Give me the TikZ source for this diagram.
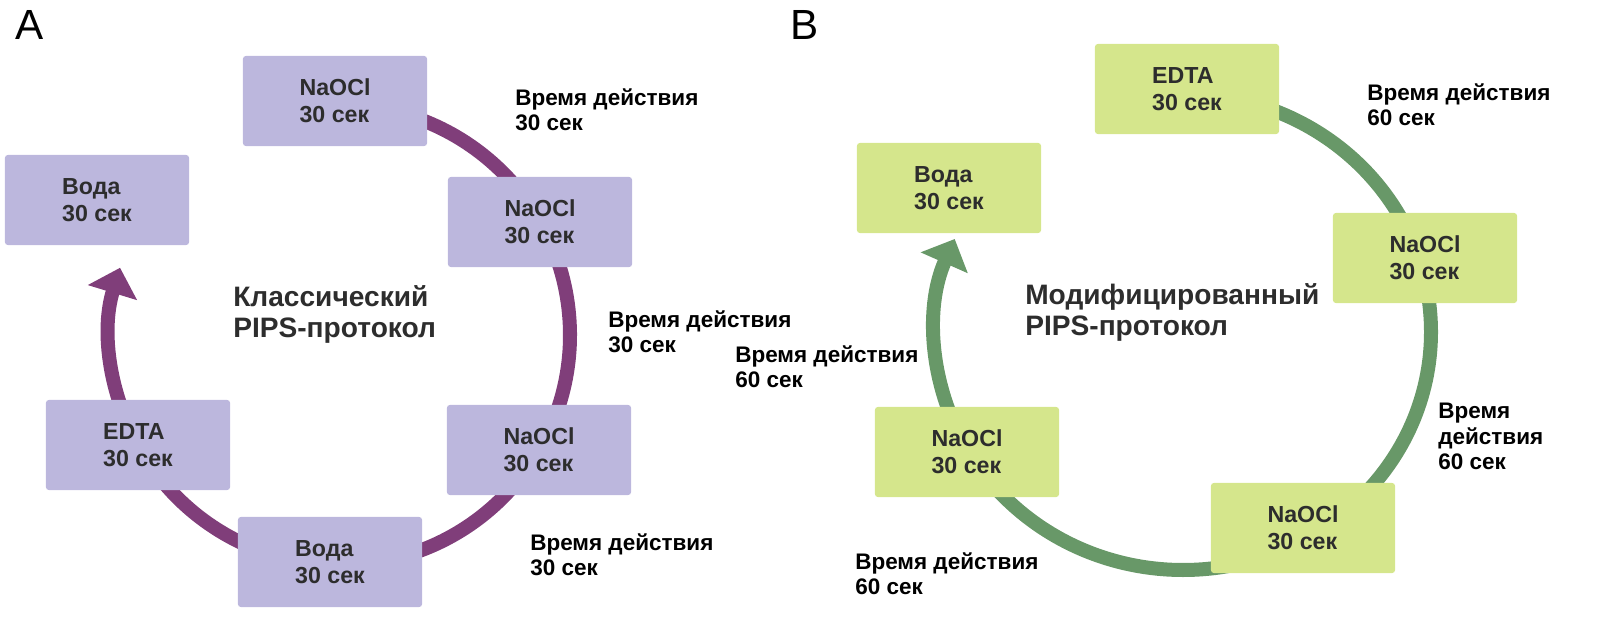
\documentclass[tikz,border=0pt]{standalone}
\usepackage{fontspec}
\setmainfont{Liberation Sans}
\usetikzlibrary{arrows.meta}
\definecolor{ringA}{RGB}{128,62,122}
\definecolor{boxA}{RGB}{188,183,221}
\definecolor{ringB}{RGB}{104,152,104}
\definecolor{boxB}{RGB}{213,230,140}
\definecolor{boxtext}{RGB}{45,45,45}
\begin{document}
\begin{tikzpicture}
  [
  x=0.025cm, y=0.025cm,
  stage/.style={rectangle, rounded corners=2pt, minimum width=46mm, minimum height=22.5mm,
    font=\fontsize{16.5}{19}\selectfont\bfseries, text=boxtext, align=left, inner sep=0pt},
  timing/.style={anchor=north west, font=\fontsize{16}{18}\selectfont\bfseries, align=left, inner sep=0pt},
  title/.style={font=\fontsize{20}{22}\selectfont\bfseries, text=boxtext, align=left, inner sep=0pt},
  ring/.style={line width=3.5mm, -{Triangle[width=12.5mm,length=6.5mm]}}
  ]
\useasboundingbox (0,0) rectangle (1613,640);

% panel A
\node[anchor=north west, font=\fontsize{30}{32}\selectfont, inner sep=0pt] (labA) at (15,630) {A};
\draw[ring, draw=ringA] (340,305) ++(95:230) arc (95:-197:230) coordinate (tipA);
\node[stage, fill=boxA] (a1) at (335,539) {NaOCl\\30 сек};
\node[stage, fill=boxA] (a2) at (540,418) {NaOCl\\30 сек};
\node[stage, fill=boxA] (a3) at (539,190) {NaOCl\\30 сек};
\node[stage, fill=boxA] (a4) at (330,78) {Вода\\30 сек};
\node[stage, fill=boxA] (a5) at (138,195) {EDTA\\30 сек};
\node[stage, fill=boxA] (a6) at (97,440) {Вода\\30 сек};
\node[timing] (ta1) at (515,552) {Время действия\\30 сек};
\node[timing] (ta2) at (608,330) {Время действия\\30 сек};
\node[timing] (ta3) at (530,107) {Время действия\\30 сек};
\node[title, anchor=north west] (ca) at (233,355) {Классический\\PIPS-протокол};

% panel B
\node[anchor=north west, font=\fontsize{30}{32}\selectfont, inner sep=0pt] (labB) at (790,630) {B};
\draw[ring, draw=ringB] (1183,308) ++(90:248 and 238) arc (90:-203:248 and 238) coordinate (tipB);
\node[stage, fill=boxB] (b1) at (1187,551) {EDTA\\30 сек};
\node[stage, fill=boxB] (b2) at (1425,382) {NaOCl\\30 сек};
\node[stage, fill=boxB] (b3) at (1303,112) {NaOCl\\30 сек};
\node[stage, fill=boxB] (b4) at (967,188) {NaOCl\\30 сек};
\node[stage, fill=boxB] (b5) at (949,452) {Вода\\30 сек};
\node[timing] (tb1) at (1367,557) {Время действия\\60 сек};
\node[timing] (tb2) at (1438,237) {Время\\действия\\60 сек};
\node[timing] (tb3) at (855,88) {Время действия\\60 сек};
\node[timing] (tb4) at (735,295) {Время действия\\60 сек};
\node[title, anchor=north west] (cb) at (1025,357) {Модифицированный\\PIPS-протокол};
\end{tikzpicture}
\end{document}
